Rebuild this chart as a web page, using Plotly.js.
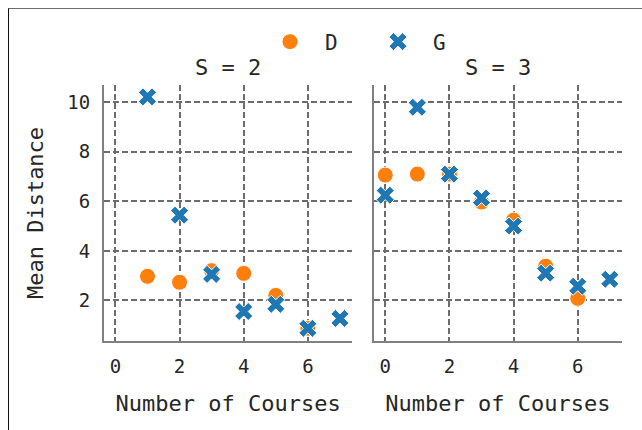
<!DOCTYPE html>
<html>
<head>
<meta charset="utf-8">
<script src="https://cdn.plot.ly/plotly-3.0.1.min.js"></script>
<style>
  html, body { margin: 0; padding: 0; background: #fff; }
  #wrap { position: relative; width: 642px; height: 430px; overflow: hidden; }
  #chart { position: absolute; left: 0; top: 0; width: 642px; height: 430px; }
  #frame { position: absolute; left: 8px; top: 8px; width: 700px; height: 500px;
           border-top: 1.5px solid #6e6e6e; border-left: 1.5px solid #111; pointer-events: none; }
</style>
</head>
<body>
<div id="wrap"><div id="chart"></div><div id="frame"></div></div>
<script>
// ---- data ----
const coursesS2D = [1, 2, 3, 4, 5, 6];
const distS2D    = [2.97, 2.73, 3.2, 3.09, 2.2, 0.87];
const coursesS2G = [1, 2, 3, 4, 5, 6, 7];
const distS2G    = [10.22, 5.44, 3.05, 1.55, 1.84, 0.87, 1.27];

const coursesS3D = [0, 1, 2, 3, 4, 5, 6];
const distS3D    = [7.06, 7.1, 7.1, 5.97, 5.24, 3.38, 2.08];
const coursesS3G = [0, 1, 2, 3, 4, 5, 6, 7];
const distS3G    = [6.25, 9.8, 7.1, 6.13, 5.0, 3.1, 2.57, 2.85];

const panelTitles = ["S = 2", "S = 3"];
const xTicks = [0, 2, 4, 6];
const yTicks = [2, 4, 6, 8, 10];
const seriesNames = ["D", "G"];
// --------------------------------------

const FONT = "DejaVu Sans Mono";
const ORANGE = "#ff7f0e", BLUE = "#1f77b4";
const circ = {symbol: "circle", size: 16, color: ORANGE, line: {color: "#fff", width: 1}};
const xm = {symbol: "x", size: 16, color: BLUE, line: {color: "#fff", width: 1}};

const traces = [
  {x: coursesS2D, y: distS2D, type: "scatter", mode: "markers", name: seriesNames[0],
   marker: circ, xaxis: "x", yaxis: "y", legendgroup: "D", showlegend: true},
  {x: coursesS3D, y: distS3D, type: "scatter", mode: "markers", name: seriesNames[0],
   marker: circ, xaxis: "x2", yaxis: "y2", legendgroup: "D", showlegend: false},
  {x: coursesS2G, y: distS2G, type: "scatter", mode: "markers", name: seriesNames[1],
   marker: xm, xaxis: "x", yaxis: "y", legendgroup: "G", showlegend: true},
  {x: coursesS3G, y: distS3G, type: "scatter", mode: "markers", name: seriesNames[1],
   marker: xm, xaxis: "x2", yaxis: "y2", legendgroup: "G", showlegend: false}
];

const xRange = [-0.355, 7.38];
const yRange = [0.358, 10.70];
const axCommon = {
  showline: true, linecolor: "#808080", linewidth: 2, zeroline: false,
  showgrid: true, gridcolor: "#6c6c6c", gridwidth: 2, griddash: "6px,3px",
  ticks: "", tickfont: {family: FONT, size: 19, color: "#262626"}
};
const titleFont = {family: FONT, size: 22, color: "#262626"};

const layout = {
  width: 642, height: 430,
  margin: {l: 104, r: 20, t: 85, b: 89},
  paper_bgcolor: "#fff", plot_bgcolor: "#fff",
  font: {family: FONT, color: "#262626"},
  showlegend: true,
  legend: {orientation: "h", x: 0.5, xanchor: "center", y: 1.168, yanchor: "middle",
           font: {family: FONT, size: 21, color: "#262626"}, itemwidth: 60,
           entrywidth: 33, entrywidthmode: "pixels", bgcolor: "rgba(0,0,0,0)"},
  xaxis: Object.assign({}, axCommon, {domain: [0, 0.479], range: xRange, tickvals: xTicks,
          anchor: "y", ticklabelstandoff: 7, title: {text: "Number of Courses", font: titleFont, standoff: 20}}),
  xaxis2: Object.assign({}, axCommon, {domain: [0.521, 1], range: xRange, tickvals: xTicks,
          anchor: "y2", ticklabelstandoff: 7, title: {text: "Number of Courses", font: titleFont, standoff: 20}}),
  yaxis: Object.assign({}, axCommon, {domain: [0, 1], range: yRange, tickvals: yTicks, anchor: "x",
          ticklabelstandoff: 8,
          title: {text: "Mean Distance", font: titleFont, standoff: 18}}),
  yaxis2: Object.assign({}, axCommon, {domain: [0, 1], range: yRange, tickvals: yTicks, anchor: "x2",
          matches: "y", showticklabels: false}),
  annotations: [
    {text: panelTitles[0], xref: "paper", yref: "paper", x: 0.2395, y: 1.07, xanchor: "center", yanchor: "middle",
     showarrow: false, font: titleFont},
    {text: panelTitles[1], xref: "paper", yref: "paper", x: 0.7605, y: 1.07, xanchor: "center", yanchor: "middle",
     showarrow: false, font: titleFont}
  ]
};

Plotly.newPlot("chart", traces, layout, {displayModeBar: false});
</script>
</body>
</html>
